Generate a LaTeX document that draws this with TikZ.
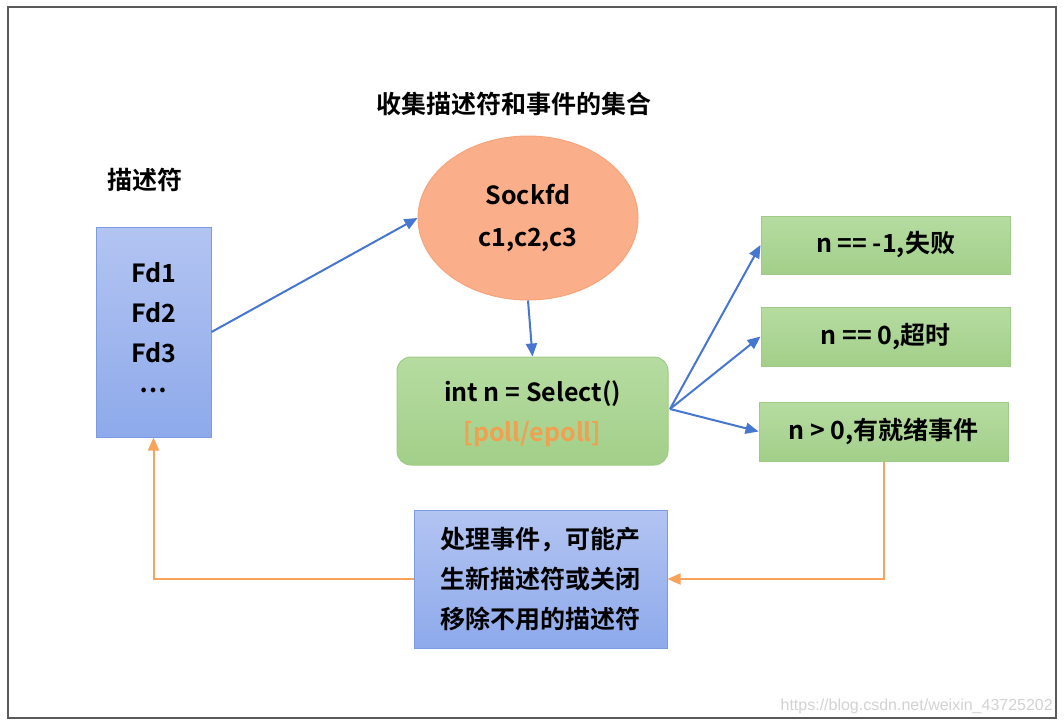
\documentclass[tikz,border=0pt]{standalone}
\usepackage{fontspec}
\setmainfont{Noto Sans CJK SC}[BoldFont = * Bold]
\newfontfamily\wmfont{Liberation Sans}
\usetikzlibrary{shapes.geometric,arrows.meta}
\definecolor{framegray}{HTML}{5A5A5A}
\definecolor{bluetop}{HTML}{B3C4F2}
\definecolor{bluebot}{HTML}{8EAAEB}
\definecolor{blueline}{HTML}{7D9BE0}
\definecolor{orfill}{HTML}{FAAF8A}
\definecolor{orline}{HTML}{F6A47C}
\definecolor{greentop}{HTML}{B6DCA1}
\definecolor{greenbot}{HTML}{A2CF89}
\definecolor{greenline}{HTML}{9FCB86}
\definecolor{arrowblue}{HTML}{4676CF}
\definecolor{arroworange}{HTML}{F7A35C}
\definecolor{polltext}{HTML}{F0A050}
\definecolor{wmgray}{HTML}{D2D2D2}
\begin{document}
\begin{tikzpicture}[x=1pt,y=-1pt,
  every node/.style={font=\fontsize{25}{40}\selectfont\bfseries, inner sep=0pt, align=center},
  bluebox/.style={draw=blueline, line width=1pt, top color=bluetop, bottom color=bluebot},
  greenbox/.style={draw=greenline, line width=1pt, top color=greentop, bottom color=greenbot},
  barrow/.style={draw=arrowblue, line width=2pt, -{Triangle[length=13pt,width=11pt]}},
  oarrow/.style={draw=arroworange, line width=2pt, -{Triangle[length=13pt,width=11pt]}},
]
\useasboundingbox (0,0) rectangle (1064,726);
\draw[framegray, line width=2pt] (8,7) rectangle (1056,718);

\node (title) at (514,104) {收集描述符和事件的集合};
\node (lbl) at (145,180) {描述符};

\node[bluebox, minimum width=115, minimum height=210] (fd) at (153.5,332) {};
\node (fdtext) at (153.5,328) {Fd1\\Fd2\\Fd3\\[-10pt]…};

\node[ellipse, draw=orline, line width=1pt, fill=orfill,
      minimum width=220, minimum height=164, font=\fontsize{25}{42}\selectfont\bfseries] (sock) at (528,218) {Sockfd\\c1,c2,c3};

\node[greenbox, rounded corners=14, minimum width=271, minimum height=108] (sel) at (532.5,411) {};
\node (seltext) at (532.5,414) {int n = Select()\\\textcolor{polltext}{[poll/epoll]}};

\node[greenbox, minimum width=249, minimum height=58] (r1) at (885.5,245) {n == -1,失败};
\node[greenbox, minimum width=249, minimum height=59] (r2) at (885.5,336.5) {n == 0,超时};
\node[greenbox, minimum width=249, minimum height=59] (r3) at (883.5,431.5) {n > 0,有就绪事件};

\node[bluebox, minimum width=253, minimum height=138] (proc) at (540.5,579)
  {处理事件，可能产\\生新描述符或关闭\\移除不用的描述符};

\draw[barrow] (fd.east) -- (sock.west);
\draw[barrow] (sock.south) -- (sel.north);
\coordinate (fork) at (670,409);
\draw[barrow] (fork) -- (r1.west);
\draw[barrow] (fork) -- (r2.west);
\draw[barrow] (fork) -- (r3.west);
\draw[oarrow] (r3.south) -- (r3.south |- proc.east) -- (proc.east);
\draw[oarrow] (proc.west) -- (fd.south |- proc.west) -- (fd.south);

\node[font=\wmfont\fontsize{16}{18}\selectfont, text=wmgray, anchor=east] (wm) at (1053,706) {https://blog.csdn.net/weixin\_43725202};
\end{tikzpicture}
\end{document}
